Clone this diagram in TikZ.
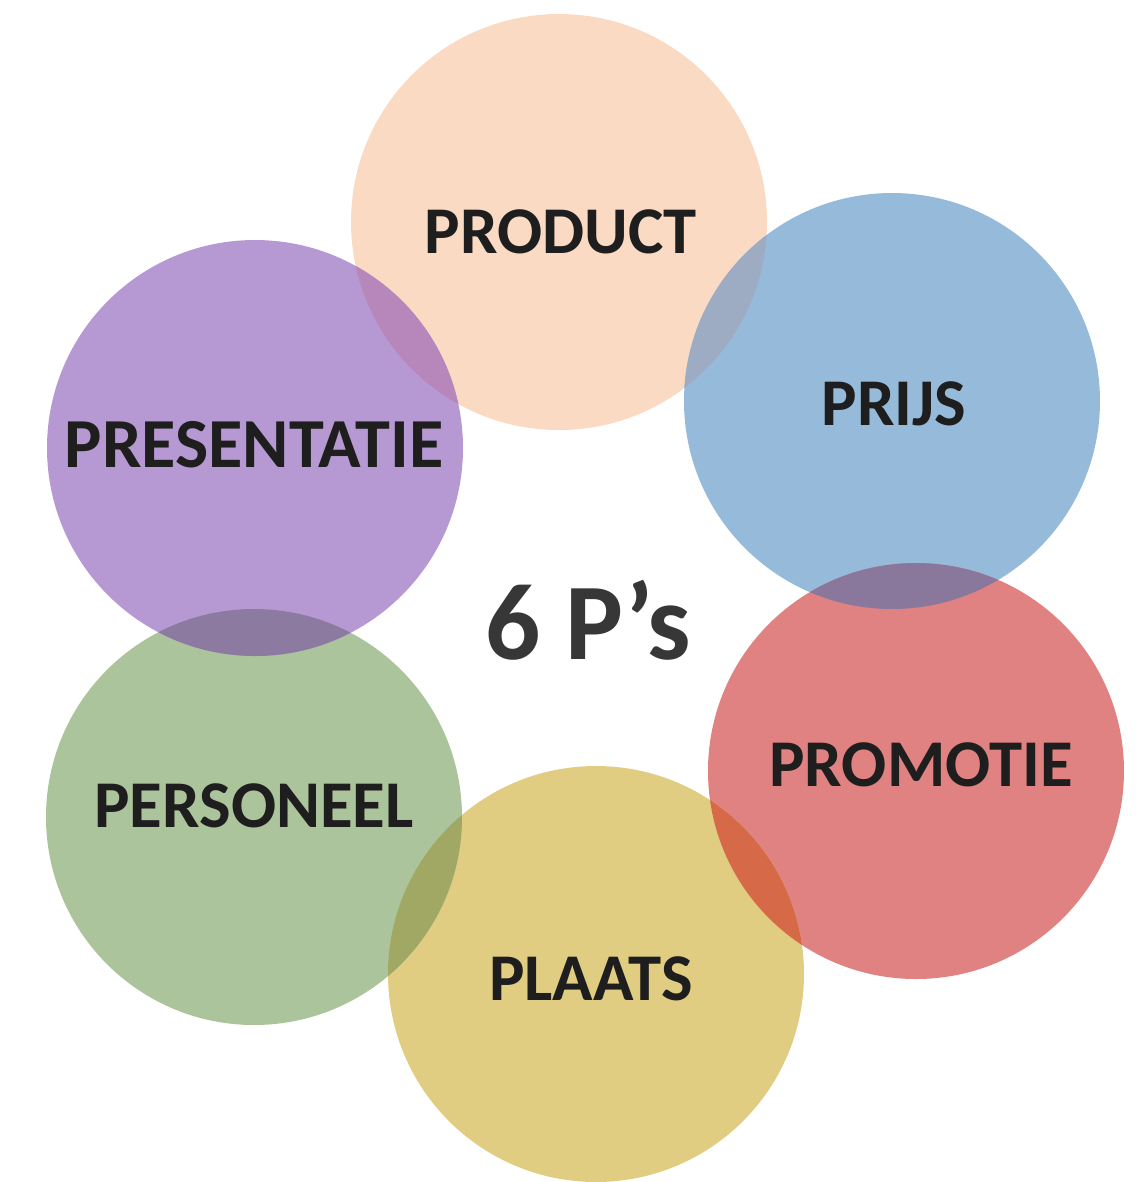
\documentclass[tikz,border=0pt]{standalone}
\usepackage{fontspec}
\setmainfont{Carlito}
\usepackage{tikz}

\definecolor{cproduct}{RGB}{250,218,195}
\definecolor{cprijs}{RGB}{150,187,218}
\definecolor{cpromotie}{RGB}{225,130,130}
\definecolor{cplaats}{RGB}{225,205,130}
\definecolor{cpersoneel}{RGB}{172,196,155}
\definecolor{cpresentatie}{RGB}{182,153,210}
\definecolor{oproductprijs}{RGB}{158,172,195}
\definecolor{oprijspromotie}{RGB}{137,120,155}
\definecolor{opromotieplaats}{RGB}{213,105,72}
\definecolor{oplaatspersoneel}{RGB}{160,168,100}
\definecolor{opersoneelpresentatie}{RGB}{140,122,160}
\definecolor{opresentatieproduct}{RGB}{183,135,188}
\definecolor{ctext}{RGB}{30,30,30}
\definecolor{ctitle}{RGB}{55,55,55}

\newcommand{\overlapfill}[3]{%
    \begin{scope}
        \clip (#1) circle (2.08cm);
        \fill[#3] (#2) circle (2.08cm);
    \end{scope}}

\begin{document}
\begin{tikzpicture}[
        pcircle/.style={circle, inner sep=0pt, minimum size=4.16cm},
        plabel/.style={inner sep=0pt, text=ctext, font=\fontsize{19}{22}\selectfont\bfseries}
    ]
        \useasboundingbox (0,0) rectangle (11.36,-11.82);
        \node[pcircle, fill=cproduct] (product) at (5.59,-2.22) {};
        \node[pcircle, fill=cprijs] (prijs) at (8.92,-4.01) {};
        \node[pcircle, fill=cpromotie] (promotie) at (9.16,-7.71) {};
        \node[pcircle, fill=cplaats] (plaats) at (5.96,-9.74) {};
        \node[pcircle, fill=cpersoneel] (personeel) at (2.54,-8.17) {};
        \node[pcircle, fill=cpresentatie] (presentatie) at (2.55,-4.48) {};

        % overlaps
        \overlapfill{product}{prijs}{oproductprijs}
        \overlapfill{prijs}{promotie}{oprijspromotie}
        \overlapfill{promotie}{plaats}{opromotieplaats}
        \overlapfill{plaats}{personeel}{oplaatspersoneel}
        \overlapfill{personeel}{presentatie}{opersoneelpresentatie}
        \overlapfill{presentatie}{product}{opresentatieproduct}

        \node[plabel] (productlabel) at (5.61,-2.32) {PRODUCT};
        \node[plabel] (prijslabel) at (8.94,-4.04) {PRIJS};
        \node[plabel] (promotielabel) at (9.21,-7.65) {PROMOTIE};
        \node[plabel] (plaatslabel) at (5.91,-9.79) {PLAATS};
        \node[plabel] (personeellabel) at (2.54,-8.06) {PERSONEEL};
        \node[plabel, font=\fontsize{20}{22}\selectfont\bfseries] (presentatielabel) at (2.54,-4.45) {PRESENTATIE};
        \node[text=ctitle, font=\fontsize{31}{36}\selectfont\bfseries] (title) at (5.88,-6.2) {6 P’s};
    \end{tikzpicture}
\end{document}
